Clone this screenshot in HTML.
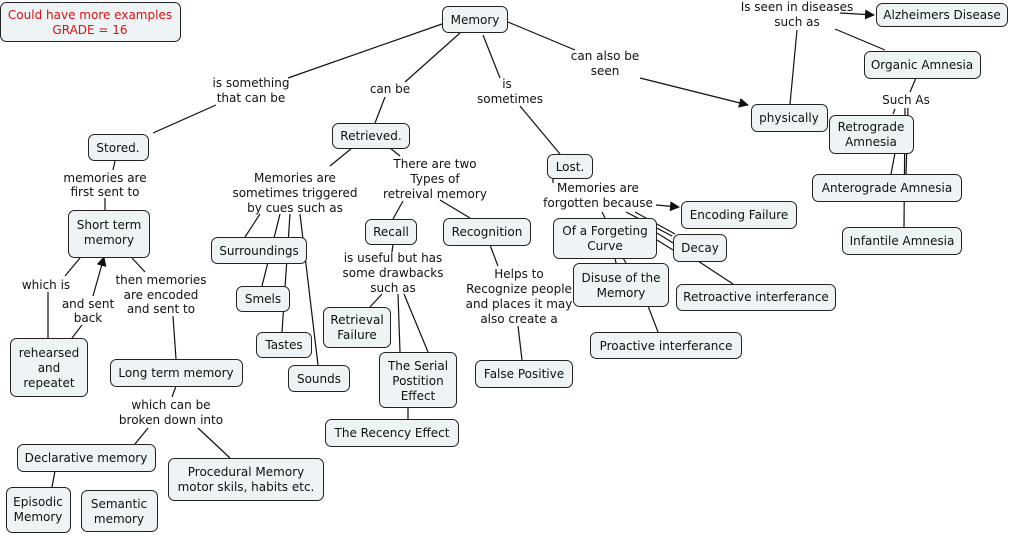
<!DOCTYPE html>
<html><head><meta charset="utf-8"><style>
html,body{margin:0;padding:0;background:#fff}
svg{display:block}
text{font-family:"DejaVu Sans","Liberation Sans",sans-serif;font-size:12px;fill:#111;text-anchor:middle}
rect{fill:#eef3f5;stroke:#222;stroke-width:1}
line,polyline{stroke:#111;stroke-width:1.2;fill:none}
</style></head><body>
<svg width="1012" height="535" viewBox="0 0 1012 535" xmlns="http://www.w3.org/2000/svg">
<defs><marker id="a" markerWidth="10" markerHeight="10" refX="9" refY="5" orient="auto" markerUnits="userSpaceOnUse"><path d="M0,0 L10,5 L0,10 z" fill="#111"/></marker></defs>
<!-- lines -->
<g>
<line x1="442" y1="24" x2="288" y2="78"/>
<line x1="216" y1="105" x2="153" y2="133"/>
<line x1="460" y1="33" x2="405" y2="82"/>
<line x1="385" y1="97" x2="375" y2="123"/>
<line x1="483" y1="35" x2="500" y2="78"/>
<line x1="520" y1="106" x2="560" y2="154"/>
<line x1="508" y1="22" x2="575" y2="50"/>
<line x1="640" y1="78" x2="748" y2="105" marker-end="url(#a)"/>
<line x1="790" y1="104" x2="797" y2="30"/>
<line x1="840" y1="13" x2="874" y2="15" marker-end="url(#a)"/>
<line x1="835" y1="29" x2="885" y2="50"/>
<line x1="916" y1="78" x2="910" y2="92"/>
<line x1="895" y1="109" x2="893" y2="114"/>
<line x1="905" y1="108" x2="904" y2="227"/>
<line x1="908" y1="108" x2="906" y2="174"/>
<line x1="895" y1="153" x2="891" y2="174"/>
<line x1="115" y1="161" x2="113" y2="170"/>
<line x1="105" y1="198" x2="105" y2="210"/>
<line x1="352" y1="148" x2="330" y2="166"/>
<line x1="390" y1="148" x2="400" y2="156"/>
<line x1="260" y1="214" x2="245" y2="237"/>
<line x1="280" y1="214" x2="262" y2="286"/>
<line x1="290" y1="214" x2="282" y2="332"/>
<line x1="300" y1="214" x2="318" y2="365"/>
<line x1="403" y1="201" x2="393" y2="219"/>
<line x1="440" y1="200" x2="470" y2="218"/>
<line x1="80" y1="258" x2="65" y2="276"/>
<line x1="48" y1="292" x2="48" y2="338"/>
<line x1="72" y1="338" x2="82" y2="325"/>
<line x1="93" y1="296" x2="104" y2="257" marker-end="url(#a)"/>
<line x1="132" y1="258" x2="145" y2="272"/>
<line x1="173" y1="316" x2="176" y2="359"/>
<line x1="393" y1="244" x2="392" y2="252"/>
<line x1="382" y1="294" x2="370" y2="307"/>
<line x1="398" y1="294" x2="400" y2="352"/>
<line x1="404" y1="294" x2="428" y2="352"/>
<line x1="408" y1="408" x2="408" y2="419"/>
<line x1="490" y1="245" x2="498" y2="266"/>
<line x1="518" y1="326" x2="522" y2="360"/>
<line x1="553" y1="178" x2="553" y2="183"/>
<line x1="656" y1="205" x2="679" y2="207" marker-end="url(#a)"/>
<line x1="602" y1="212" x2="605" y2="218"/>
<line x1="626" y1="212" x2="672" y2="236"/>
<line x1="635" y1="212" x2="675" y2="234"/>
<line x1="657" y1="240" x2="673" y2="250"/>
<line x1="657" y1="233" x2="673" y2="243"/>
<line x1="698" y1="261" x2="733" y2="284"/>
<line x1="615" y1="258" x2="616" y2="263"/>
<line x1="623" y1="258" x2="626" y2="263"/>
<line x1="648" y1="306" x2="658" y2="332"/>
<line x1="176" y1="386" x2="172" y2="397"/>
<line x1="148" y1="428" x2="135" y2="444"/>
<line x1="198" y1="428" x2="230" y2="458"/>
<line x1="55" y1="471" x2="52" y2="487" />
</g>
<!-- nodes -->
<g>
<rect x="0.5" y="2.5" width="180" height="39" rx="6"/>
<rect x="442.5" y="6.5" width="65" height="26" rx="6"/>
<rect x="876.5" y="3.5" width="131" height="23" rx="6"/>
<rect x="864.5" y="51.5" width="116" height="27" rx="6"/>
<rect x="751.5" y="104.5" width="76" height="27" rx="6"/>
<rect x="829.5" y="115.5" width="84" height="38" rx="6"/>
<rect x="812.5" y="174.5" width="149" height="27" rx="6"/>
<rect x="842.5" y="227.5" width="119" height="27" rx="6"/>
<rect x="88.5" y="134.5" width="60" height="26" rx="6"/>
<rect x="332.5" y="123.5" width="77" height="25" rx="6"/>
<rect x="547.5" y="154.5" width="45" height="24" rx="6"/>
<rect x="68.5" y="210.5" width="81" height="47" rx="6"/>
<rect x="211.5" y="237.5" width="95" height="26" rx="6"/>
<rect x="236.5" y="286.5" width="53" height="25" rx="6"/>
<rect x="256.5" y="332.5" width="55" height="25" rx="6"/>
<rect x="288.5" y="365.5" width="61" height="26" rx="6"/>
<rect x="365.5" y="219.5" width="51" height="25" rx="6"/>
<rect x="443.5" y="218.5" width="87" height="27" rx="6"/>
<rect x="323.5" y="307.5" width="67" height="40" rx="6"/>
<rect x="379.5" y="352.5" width="77" height="55" rx="6"/>
<rect x="325.5" y="419.5" width="133" height="27" rx="6"/>
<rect x="475.5" y="360.5" width="97" height="27" rx="6"/>
<rect x="553.5" y="218.5" width="103" height="40" rx="6"/>
<rect x="681.5" y="201.5" width="115" height="27" rx="6"/>
<rect x="673.5" y="234.5" width="53" height="27" rx="6"/>
<rect x="573.5" y="263.5" width="95" height="43" rx="6"/>
<rect x="676.5" y="284.5" width="159" height="26" rx="6"/>
<rect x="590.5" y="332.5" width="151" height="26" rx="6"/>
<rect x="10.5" y="338.5" width="77" height="58" rx="6"/>
<rect x="110.5" y="359.5" width="132" height="27" rx="6"/>
<rect x="17.5" y="444.5" width="138" height="27" rx="6"/>
<rect x="168.5" y="458.5" width="155" height="42" rx="6"/>
<rect x="6.5" y="487.5" width="64" height="45" rx="6"/>
<rect x="81.5" y="490.5" width="76" height="41" rx="6"/>
</g>
<!-- node text -->
<g>
<text x="90" y="19" style="fill:#e01010">Could have more examples</text>
<text x="90" y="34" style="fill:#e01010">GRADE = 16</text>
<text x="475" y="24">Memory</text>
<text x="942" y="19">Alzheimers Disease</text>
<text x="922" y="69">Organic Amnesia</text>
<text x="789" y="122">physically</text>
<text x="871" y="131">Retrograde</text>
<text x="871" y="146">Amnesia</text>
<text x="887" y="192">Anterograde Amnesia</text>
<text x="902" y="245">Infantile Amnesia</text>
<text x="118" y="152">Stored.</text>
<text x="371" y="140">Retrieved.</text>
<text x="570" y="171">Lost.</text>
<text x="109" y="229">Short term</text>
<text x="109" y="244">memory</text>
<text x="259" y="255">Surroundings</text>
<text x="263" y="303">Smels</text>
<text x="284" y="349">Tastes</text>
<text x="319" y="383">Sounds</text>
<text x="391" y="236">Recall</text>
<text x="487" y="236">Recognition</text>
<text x="357" y="324">Retrieval</text>
<text x="357" y="339">Failure</text>
<text x="418" y="370">The Serial</text>
<text x="418" y="385">Postition</text>
<text x="418" y="400">Effect</text>
<text x="392" y="437">The Recency Effect</text>
<text x="524" y="378">False Positive</text>
<text x="605" y="235">Of a Forgeting</text>
<text x="605" y="250">Curve</text>
<text x="739" y="219">Encoding Failure</text>
<text x="700" y="252">Decay</text>
<text x="621" y="282">Disuse of the</text>
<text x="621" y="297">Memory</text>
<text x="756" y="301">Retroactive interferance</text>
<text x="666" y="350">Proactive interferance</text>
<text x="49" y="357">rehearsed</text>
<text x="49" y="372">and</text>
<text x="49" y="387">repeatet</text>
<text x="176" y="377">Long term memory</text>
<text x="86" y="462">Declarative memory</text>
<text x="246" y="476">Procedural Memory</text>
<text x="246" y="491">motor skils, habits etc.</text>
<text x="38" y="506">Episodic</text>
<text x="38" y="521">Memory</text>
<text x="119" y="508">Semantic</text>
<text x="119" y="523">memory</text>
</g>
<!-- link labels -->
<g>
<text x="251" y="87">is something</text>
<text x="251" y="102">that can be</text>
<text x="390" y="93">can be</text>
<text x="507" y="88">is</text>
<text x="510" y="103">sometimes</text>
<text x="605" y="60">can also be</text>
<text x="605" y="75">seen</text>
<text x="797" y="11">Is seen in diseases</text>
<text x="797" y="26">such as</text>
<text x="906" y="104">Such As</text>
<text x="105" y="182">memories are</text>
<text x="105" y="196">first sent to</text>
<text x="295" y="182">Memories are</text>
<text x="295" y="197">sometimes triggered</text>
<text x="295" y="212">by cues such as</text>
<text x="435" y="168">There are two</text>
<text x="435" y="183">Types of</text>
<text x="435" y="198">retreival memory</text>
<text x="46" y="289">which is</text>
<text x="88" y="308">and sent</text>
<text x="88" y="322">back</text>
<text x="161" y="284">then memories</text>
<text x="161" y="299">are encoded</text>
<text x="161" y="313">and sent to</text>
<text x="393" y="262">is useful but has</text>
<text x="393" y="277">some drawbacks</text>
<text x="393" y="292">such as</text>
<text x="519" y="278">Helps to</text>
<text x="519" y="293">Recognize people</text>
<text x="519" y="308">and places it may</text>
<text x="519" y="323">also create a</text>
<text x="598" y="192">Memories are</text>
<text x="598" y="207">forgotten because</text>
<text x="171" y="409">which can be</text>
<text x="171" y="424">broken down into</text>
</g>
</svg>
</body></html>
